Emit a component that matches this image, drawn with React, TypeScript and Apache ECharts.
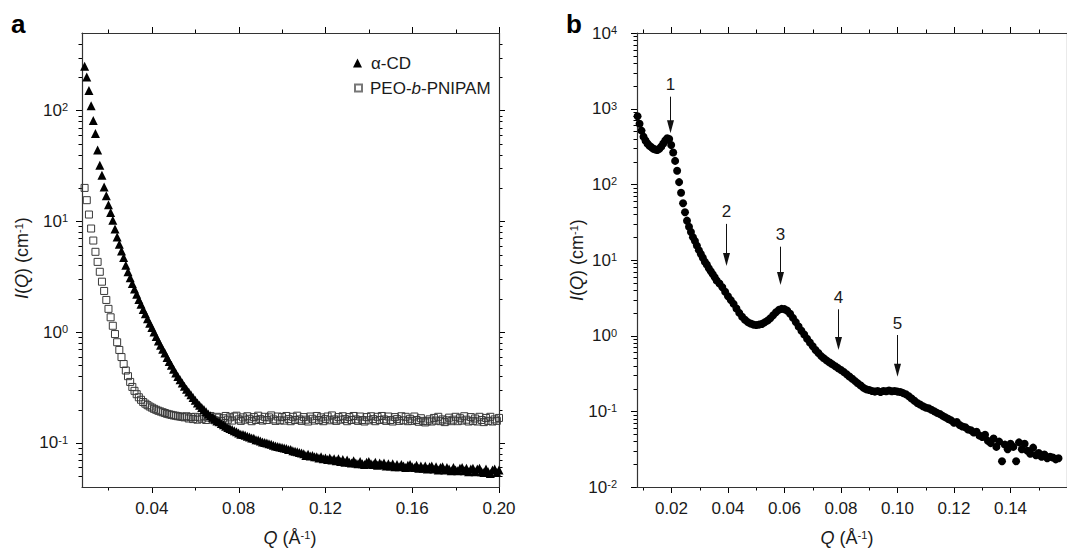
import React, { useEffect, useRef } from "react";
import * as echarts from "echarts";

const FONT = '"Liberation Sans", Arial, Helvetica, sans-serif';
const AX = "#333";
const TXT = "#1a1a1a";

// ---------- Panel a : SANS, Q grid 0.009 .. 0.200 step 0.001 ----------
const A_Q_START = 0.009;
const A_Q_STEP = 0.001;

const alphaCD = [
  251, 200, 151, 110, 81, 62, 44, 32, 26, 20.4,
  17.0, 14.1, 12.0, 10.2, 8.5, 7.2, 6.2, 5.4, 4.7, 4.0,
  3.5, 3.1, 2.75, 2.45, 2.19, 1.97, 1.78, 1.6, 1.46, 1.32,
  1.2, 1.1, 1.0, 0.912, 0.832, 0.759, 0.7, 0.646, 0.589, 0.543,
  0.501, 0.462, 0.427, 0.398, 0.372, 0.347, 0.324, 0.305, 0.288, 0.272,
  0.257, 0.243, 0.229, 0.219, 0.209, 0.2, 0.191, 0.182, 0.176, 0.17,
  0.164, 0.158, 0.155, 0.15, 0.146, 0.141, 0.138, 0.135, 0.132, 0.129,
  0.126, 0.123, 0.12, 0.119, 0.117, 0.115, 0.113, 0.111, 0.11, 0.107,
  0.106, 0.104, 0.102, 0.101, 0.1, 0.098, 0.097, 0.095, 0.094, 0.093,
  0.092, 0.091, 0.09, 0.089, 0.087, 0.087, 0.085, 0.084, 0.083, 0.082,
  0.081, 0.08, 0.077, 0.079, 0.076, 0.077, 0.075, 0.075, 0.073, 0.075,
  0.072, 0.073, 0.071, 0.073, 0.07, 0.072, 0.069, 0.072, 0.068, 0.071,
  0.067, 0.07, 0.067, 0.066, 0.069, 0.066, 0.065, 0.068, 0.065, 0.064,
  0.067, 0.068, 0.065, 0.064, 0.067, 0.063, 0.066, 0.064, 0.066, 0.062,
  0.065, 0.062, 0.065, 0.061, 0.064, 0.061, 0.064, 0.062, 0.06, 0.063,
  0.064, 0.061, 0.06, 0.063, 0.059, 0.062, 0.059, 0.062, 0.058, 0.061,
  0.062, 0.058, 0.061, 0.057, 0.06, 0.061, 0.057, 0.06, 0.058, 0.056,
  0.06, 0.057, 0.056, 0.059, 0.06, 0.056, 0.059, 0.055, 0.058, 0.059,
  0.055, 0.058, 0.059, 0.055, 0.054, 0.058, 0.055, 0.053, 0.057, 0.058,
  0.054, 0.057,
];

const peoPnipam = [
  20, 15.5, 11.5, 8.6, 6.7, 5.3, 4.3, 3.5, 2.85, 2.35,
  1.95, 1.62, 1.36, 1.14, 0.96, 0.81, 0.69, 0.595, 0.515, 0.45,
  0.4, 0.355, 0.32, 0.295, 0.275, 0.258, 0.245, 0.234, 0.226, 0.219,
  0.213, 0.208, 0.203, 0.199, 0.195, 0.192, 0.189, 0.186, 0.183, 0.181,
  0.179, 0.177, 0.176, 0.174, 0.173, 0.172, 0.17, 0.174, 0.166, 0.171,
  0.164, 0.172, 0.162, 0.17, 0.165, 0.174, 0.161, 0.169, 0.175, 0.163,
  0.16, 0.172, 0.169, 0.158, 0.167, 0.175, 0.162, 0.17, 0.159, 0.173,
  0.176, 0.163, 0.158, 0.17, 0.162, 0.174, 0.165, 0.157, 0.171, 0.161,
  0.176, 0.164, 0.159, 0.172, 0.161, 0.17, 0.177, 0.163, 0.158, 0.173,
  0.16, 0.171, 0.159, 0.175, 0.164, 0.157, 0.172, 0.161, 0.176, 0.163,
  0.158, 0.171, 0.162, 0.156, 0.173, 0.165, 0.159, 0.175, 0.161, 0.17,
  0.157, 0.164, 0.173, 0.16, 0.177, 0.163, 0.158, 0.171, 0.162, 0.174,
  0.164, 0.157, 0.171, 0.161, 0.175, 0.163, 0.158, 0.173, 0.161, 0.156,
  0.171, 0.16, 0.174, 0.164, 0.157, 0.172, 0.161, 0.175, 0.163, 0.158,
  0.173, 0.161, 0.156, 0.171, 0.164, 0.158, 0.174, 0.16, 0.172, 0.157,
  0.165, 0.158, 0.173, 0.161, 0.155, 0.167, 0.158, 0.153, 0.157, 0.163,
  0.156, 0.168, 0.159, 0.172, 0.157, 0.163, 0.154, 0.16, 0.169, 0.157,
  0.162, 0.172, 0.157, 0.167, 0.159, 0.174, 0.162, 0.156, 0.171, 0.158,
  0.166, 0.156, 0.172, 0.161, 0.154, 0.168, 0.158, 0.172, 0.156, 0.163,
  0.158, 0.168,
];

// ---------- Panel b : SAXS ----------
const B1_Q_START = 0.008;
const B1_Q_STEP = 0.0007;
const bIntensityLow = [
  794, 631, 513, 427, 380, 347, 324, 309, 295, 288,
  285, 295, 316, 347, 380, 407, 398, 331, 263, 204,
  151, 107, 77.6, 56.2, 42.7, 33.1, 27.5, 23.4, 20.0, 17.8,
  15.5, 13.5, 12.0, 10.7, 9.5, 8.7, 7.8, 7.1, 6.5, 5.9,
];
const B2_Q_START = 0.036;
const B2_Q_STEP = 0.001;
const bIntensityHigh = [
  5.37, 4.9, 4.37, 3.8, 3.31, 2.95, 2.63, 2.29, 2.0, 1.78,
  1.62, 1.51, 1.45, 1.4, 1.38, 1.4, 1.43, 1.5, 1.58, 1.7,
  1.86, 2.04, 2.19, 2.26, 2.24, 2.14, 1.95, 1.72, 1.51, 1.32,
  1.16, 1.035, 0.912, 0.813, 0.724, 0.646, 0.589, 0.537, 0.501, 0.468,
  0.442, 0.417, 0.394, 0.372, 0.351, 0.331, 0.309, 0.288, 0.269, 0.251,
  0.234, 0.219, 0.204, 0.195, 0.191, 0.186, 0.182, 0.186, 0.18, 0.186,
  0.184, 0.188, 0.184, 0.186, 0.182, 0.18, 0.174, 0.168, 0.158, 0.148,
  0.138, 0.129, 0.123, 0.117, 0.112, 0.11, 0.105, 0.1, 0.0955, 0.0923,
  0.0871, 0.0832, 0.0794, 0.0759, 0.0708, 0.0724, 0.0661, 0.0631, 0.0617, 0.0575,
  0.0562, 0.0525, 0.0537, 0.0479, 0.0457, 0.049, 0.0407, 0.038, 0.0437, 0.0339,
  0.0398, 0.0219, 0.0363, 0.0316, 0.0372, 0.0339, 0.0219, 0.0389, 0.0316, 0.0372,
  0.0302, 0.0275, 0.0331, 0.0263, 0.0282, 0.0251, 0.0269, 0.024, 0.0251, 0.0245,
  0.0232, 0.024,
];

// Peak arrows (panel b): label, Q position, shaft top and arrow tip intensities
const arrowLabels = ["1", "2", "3", "4", "5"];
const arrowQ = [0.0194, 0.0392, 0.0584, 0.0789, 0.1];
const arrowTopI = [1440, 30, 15, 2.23, 1.02];
const arrowTipI = [473, 8.34, 4.68, 0.647, 0.287];

// Axis ranges and ticks
const aXRange = [0.0078, 0.2];
const aYRange = [0.04, 500];
const bXRange = [0.0078, 0.16];
const bYRange = [0.01, 10000];
const aXMajor = [0.04, 0.08, 0.12, 0.16, 0.2];
const aXMinor = [0.02, 0.06, 0.1, 0.14, 0.18];
const aYMajor = [0.1, 1, 10, 100];
const aYMinor = [
  0.05, 0.06, 0.07, 0.08, 0.09,
  0.2, 0.3, 0.4, 0.5, 0.6, 0.7, 0.8, 0.9,
  2, 3, 4, 5, 6, 7, 8, 9,
  20, 30, 40, 50, 60, 70, 80, 90,
  200, 300, 400,
];
const bXMajor = [0.02, 0.04, 0.06, 0.08, 0.1, 0.12, 0.14];
const bXMinor = [0.01, 0.03, 0.05, 0.07, 0.09, 0.11, 0.13, 0.15];
const bYMajor = [0.01, 0.1, 1, 10, 100, 1000, 10000];
const bYMinor = [
  0.02, 0.03, 0.04, 0.05, 0.06, 0.07, 0.08, 0.09,
  0.2, 0.3, 0.4, 0.5, 0.6, 0.7, 0.8, 0.9,
  2, 3, 4, 5, 6, 7, 8, 9,
  20, 30, 40, 50, 60, 70, 80, 90,
  200, 300, 400, 500, 600, 700, 800, 900,
  2000, 3000, 4000, 5000, 6000, 7000, 8000, 9000,
];

const pairs = (start: number, step: number, vals: number[]) =>
  vals.map((v, i) => [+(start + i * step).toFixed(5), v]);

const powLabel = (v: number) => {
  const e = Math.round(Math.log10(v));
  return `{b|10}{s|${e}}`;
};

const labelRich = {
  b: { fontSize: 17, fontFamily: FONT, color: TXT },
  s: { fontSize: 11, fontFamily: FONT, color: TXT, verticalAlign: "top" },
};

function axesFor(
  gi: number,
  xr: number[],
  yr: number[],
  xLabels: number[],
  yLabels: number[],
  yMargin: number
) {
  const xa = (pos: string, showLabel: boolean) => ({
    type: "value",
    gridIndex: gi,
    position: pos,
    min: xr[0],
    max: xr[1],
    splitLine: { show: false },
    axisLine: { show: true, onZero: false, lineStyle: { color: AX, width: 1.2 } },
    axisTick: { show: false },
    axisLabel: {
      show: showLabel,
      customValues: xLabels,
      margin: 13,
      formatter: (v: number) => v.toFixed(2),
      color: TXT,
      fontSize: 17,
      fontFamily: FONT,
    },
  });
  const ya = (pos: string, showLabel: boolean) => ({
    type: "log",
    logBase: 10,
    gridIndex: gi,
    position: pos,
    min: yr[0],
    max: yr[1],
    splitLine: { show: false },
    minorTick: { show: false },
    axisLine: { show: true, onZero: false, lineStyle: { color: AX, width: 1.2 } },
    axisTick: { show: false },
    axisLabel: {
      show: showLabel,
      customValues: yLabels,
      margin: yMargin,
      formatter: powLabel,
      rich: labelRich,
    },
  });
  return { xAxis: [xa("bottom", true), xa("top", false)], yAxis: [ya("left", true), ya("right", false)] };
}

export default function App() {
  const ref = useRef<HTMLDivElement>(null);

  useEffect(() => {
    document.body.style.margin = "0";
    if (!ref.current) return;
    const chart = echarts.init(ref.current, undefined, { renderer: "svg" });

    const A = axesFor(0, aXRange, aYRange, aXMajor, aYMajor, 14);
    const B = axesFor(1, bXRange, bYRange, bXMajor, bYMajor, 20);

    const bData = [
      ...pairs(B1_Q_START, B1_Q_STEP, bIntensityLow),
      ...pairs(B2_Q_START, B2_Q_STEP, bIntensityHigh),
    ];

    const titleRich = {
      i: { fontSize: 18, fontFamily: FONT, fontStyle: "italic", fill: TXT },
      n: { fontSize: 18, fontFamily: FONT, fill: TXT },
      s: { fontSize: 11, fontFamily: FONT, fill: TXT, verticalAlign: "top" },
    };
    const xTitle = "{i|Q}{n| (Å}{s|-1}{n|)}";
    const yTitle = "{i|I}{n|(}{i|Q}{n|) (cm}{s|-1}{n|)}";

    const legendText = { fontSize: 17, fontFamily: FONT, color: TXT, lineHeight: 20 };

    const baseGraphic: any[] = [
      {
        type: "text",
        x: 11,
        y: 24,
        style: { text: "a", fontSize: 26, fontWeight: "bold", fontFamily: FONT, fill: "#000", align: "left", verticalAlign: "middle" },
      },
      {
        type: "text",
        x: 566,
        y: 24,
        style: { text: "b", fontSize: 26, fontWeight: "bold", fontFamily: FONT, fill: "#000", align: "left", verticalAlign: "middle" },
      },
      {
        type: "text",
        x: 290,
        y: 538,
        style: { text: xTitle, rich: titleRich, align: "center", verticalAlign: "middle", fontSize: 18, fontFamily: FONT, fill: TXT },
      },
      {
        type: "text",
        x: 847,
        y: 538,
        style: { text: xTitle, rich: titleRich, align: "center", verticalAlign: "middle", fontSize: 18, fontFamily: FONT, fill: TXT },
      },
      {
        type: "text",
        x: 22,
        y: 258,
        rotation: Math.PI / 2,
        style: { text: yTitle, rich: titleRich, align: "center", verticalAlign: "middle", fontSize: 18, fontFamily: FONT, fill: TXT },
      },
      {
        type: "text",
        x: 577,
        y: 260,
        rotation: Math.PI / 2,
        style: { text: yTitle, rich: titleRich, align: "center", verticalAlign: "middle", fontSize: 18, fontFamily: FONT, fill: TXT },
      },
    ];

    const option: any = {
      animation: false,
      backgroundColor: "#fff",
      grid: [
        { left: 82, top: 33, width: 417, height: 454, containLabel: false },
        { left: 637, top: 33, width: 448, height: 454, containLabel: false },
      ],
      xAxis: [...A.xAxis, ...B.xAxis],
      yAxis: [...A.yAxis, ...B.yAxis],
      legend: [
        {
          data: ["α-CD"],
          left: 348,
          top: 48,
          itemWidth: 9,
          itemHeight: 9,
          selectedMode: false,
          textStyle: { ...legendText, padding: [0, 0, 0, 4] },
        },
        {
          data: [{ name: "PEO-b-PNIPAM", itemStyle: { borderColor: "#777" } }],
          left: 349,
          top: 73,
          itemWidth: 7,
          itemHeight: 7,
          selectedMode: false,
          formatter: () => "PEO-{i|b}-PNIPAM",
          textStyle: {
            ...legendText,
            padding: [0, 0, 0, 3],
            rich: { i: { fontSize: 17, fontFamily: FONT, fontStyle: "italic", color: TXT } },
          },
        },
      ],
      series: [
        {
          type: "scatter",
          name: "PEO-b-PNIPAM",
          xAxisIndex: 0,
          yAxisIndex: 0,
          symbol: "rect",
          symbolSize: 7,
          itemStyle: { color: "rgba(255,255,255,0)", borderColor: "#3a3a3a", borderWidth: 1, opacity: 1 },
          data: pairs(A_Q_START, A_Q_STEP, peoPnipam),
        },
        {
          type: "scatter",
          name: "α-CD",
          xAxisIndex: 0,
          yAxisIndex: 0,
          symbol: "triangle",
          symbolSize: 9,
          itemStyle: { color: "#000", opacity: 1 },
          data: pairs(A_Q_START, A_Q_STEP, alphaCD),
        },
        {
          type: "scatter",
          name: "SAXS",
          xAxisIndex: 2,
          yAxisIndex: 2,
          symbol: "circle",
          symbolSize: 8,
          itemStyle: { color: "#000", opacity: 1 },
          data: bData,
        },
        {
          type: "custom",
          xAxisIndex: 2,
          yAxisIndex: 2,
          silent: true,
          clip: false,
          z: 6,
          encode: { x: 0, y: 1 },
          data: arrowQ.map((q, i) => [q, arrowTopI[i], arrowTipI[i], i]),
          renderItem: (_p: any, api: any) => {
            const q = api.value(0);
            const top = api.coord([q, api.value(1)]);
            const tip = api.coord([q, api.value(2)]);
            const idx = api.value(3);
            const x = Math.round(top[0]) + 0.5;
            const headLen = 13;
            const headHalf = 3.5;
            return {
              type: "group",
              children: [
                {
                  type: "line",
                  shape: { x1: x, y1: top[1], x2: x, y2: tip[1] - headLen + 1 },
                  style: { stroke: "#111", lineWidth: 1 },
                },
                {
                  type: "polygon",
                  shape: {
                    points: [
                      [x - headHalf, tip[1] - headLen],
                      [x + headHalf, tip[1] - headLen],
                      [x, tip[1]],
                    ],
                  },
                  style: { fill: "#111" },
                },
                {
                  type: "text",
                  x: x,
                  y: top[1] - 12,
                  style: {
                    text: arrowLabels[idx],
                    fontSize: 17,
                    fontFamily: FONT,
                    fill: TXT,
                    align: "center",
                    verticalAlign: "middle",
                  },
                },
              ],
            };
          },
        },
      ],
      graphic: baseGraphic,
    };

    chart.setOption(option);

    // Tick marks as thin filled rects, positioned through the chart's own axis scales
    const tickEls: any[] = [];
    const addTicks = (
      gi: number,
      xr: number[],
      yr: number[],
      xMaj: number[],
      xMin: number[],
      yMaj: number[],
      yMin: number[]
    ) => {
      const px = (x: number, y: number) => chart.convertToPixel({ gridIndex: gi } as any, [x, y]) as number[];
      const box = (x: number, y: number, w: number, h: number) => {
        tickEls.push({
          type: "rect",
          shape: { x: x, y: y, width: w, height: h },
          style: { fill: "black" },
        });
      };
      const xt = (v: number, len: number) => {
        const b = px(v, yr[0]);
        const t = px(v, yr[1]);
        const x = Math.round(b[0]);
        box(x, b[1], 1, len);
        box(x, t[1] - len, 1, len);
      };
      const yt = (v: number, len: number) => {
        const l = px(xr[0], v);
        const r = px(xr[1], v);
        const y = Math.round(l[1]);
        box(l[0] - len, y, len, 1);
        box(r[0], y, len, 1);
      };
      xMaj.forEach((v) => xt(v, 6));
      xMin.forEach((v) => xt(v, 3.5));
      yMaj.forEach((v) => yt(v, 6));
      yMin.forEach((v) => yt(v, 3.5));
    };
    addTicks(0, aXRange, aYRange, aXMajor, aXMinor, aYMajor, aYMinor);
    addTicks(1, bXRange, bYRange, bXMajor, bXMinor, bYMajor, bYMinor);

    chart.setOption({ graphic: [...baseGraphic, ...tickEls] });

    return () => chart.dispose();
  }, []);

  return <div ref={ref} style={{ width: 1067, height: 551 }} />;
}
